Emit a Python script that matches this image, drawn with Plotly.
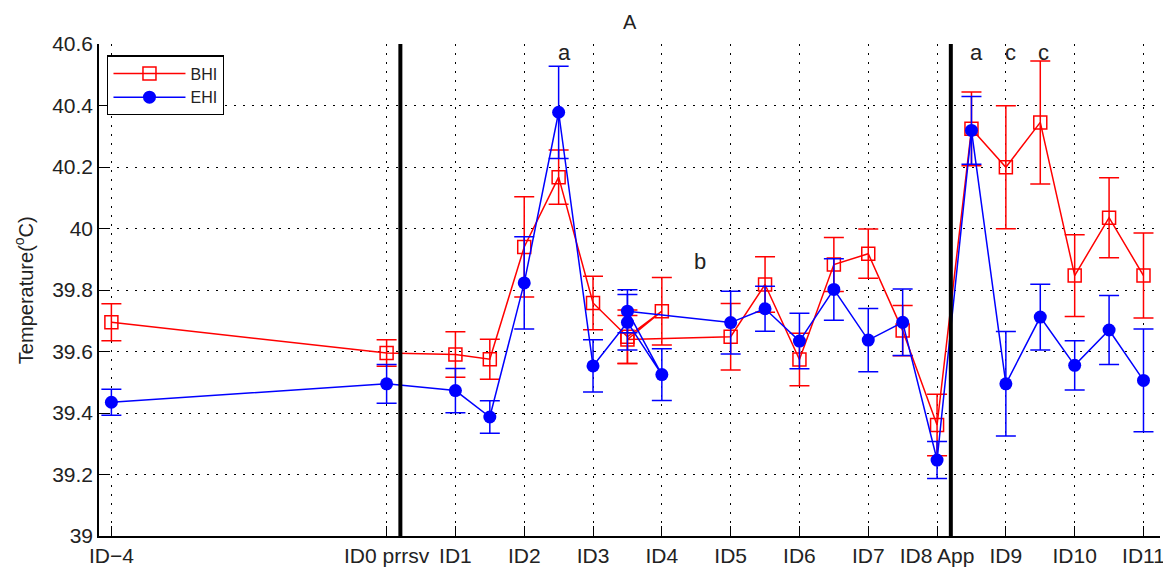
import plotly.graph_objects as go

# ---- data ----
days = [-4, 0, 1, 1.5, 2, 2.5, 3, 3.5, 4, 3.5, 5, 5.5, 6, 6.5, 7, 7.5, 8, 8.5, 9, 9.5, 10, 10.5, 11]

bhi_mean = [39.695, 39.595, 39.59, 39.575, 39.94, 40.167, 39.758, 39.648, 39.731, 39.639, 39.648,
            39.818, 39.574, 39.883, 39.918, 39.668, 39.361, 40.324, 40.199, 40.345, 39.847, 40.035, 39.847]
bhi_err = [0.06, 0.043, 0.074, 0.065, 0.163, 0.088, 0.087, 0.087, 0.11, 0.078, 0.108,
           0.09, 0.085, 0.088, 0.08, 0.082, 0.1, 0.12, 0.2, 0.2, 0.133, 0.13, 0.138]

ehi_mean = [39.435, 39.495, 39.473, 39.387, 39.823, 40.378, 39.553, 39.695, 39.525, 39.731, 39.694,
            39.739, 39.634, 39.802, 39.637, 39.695, 39.247, 40.319, 39.495, 39.712, 39.555, 39.67, 39.506]
ehi_err = [0.042, 0.063, 0.072, 0.053, 0.15, 0.15, 0.085, 0.09, 0.084, 0.07, 0.102,
           0.073, 0.09, 0.1, 0.103, 0.108, 0.06, 0.11, 0.17, 0.107, 0.08, 0.112, 0.167]

tick_vals = [-4, 0, 1, 2, 3, 4, 5, 6, 7, 8, 9, 10, 11]
tick_text = ["ID\u22124", "ID0 prrsv", "ID1", "ID2", "ID3", "ID4", "ID5", "ID6", "ID7",
             "ID8 App", "ID9", "ID10", "ID11"]

y_ticks = [39, 39.2, 39.4, 39.6, 39.8, 40, 40.2, 40.4, 40.6]
y_ticktext = ["39", "39.2", "39.4", "39.6", "39.8", "40", "40.2", "40.4", "40.6"]

event_lines = [0.2, 8.2]

letter_x = [2.59, 4.56, 8.57, 9.07, 9.55]
letter_y = [40.572, 39.894, 40.571, 40.571, 40.571]
letter_text = ["a", "b", "a", "c", "c"]

FONT = "Liberation Sans, Arial, Helvetica, sans-serif"

fig = go.Figure()
fig.add_trace(go.Scatter(
    x=days, y=bhi_mean, name="BHI", mode="lines+markers",
    line=dict(color="#ff0000", width=1.5),
    marker=dict(symbol="square-open", size=13, color="#ff0000", line=dict(width=1.5, color="#ff0000")),
    error_y=dict(type="data", array=bhi_err, visible=True, color="#ff0000", thickness=1.5, width=10),
))
fig.add_trace(go.Scatter(
    x=days, y=ehi_mean, name="EHI", mode="lines+markers",
    line=dict(color="#0000ff", width=1.5),
    marker=dict(symbol="circle", size=13, color="#0000ff"),
    error_y=dict(type="data", array=ehi_err, visible=True, color="#0000ff", thickness=1.5, width=10),
))

for xv in event_lines:
    fig.add_shape(type="line", x0=xv, x1=xv, y0=0, y1=1, xref="x", yref="paper",
                  line=dict(color="black", width=4), layer="above")

for lx, ly, lt in zip(letter_x, letter_y, letter_text):
    fig.add_annotation(x=lx, y=ly, text=lt, showarrow=False, xanchor="center", yanchor="middle",
                       font=dict(size=22, color="#222", family=FONT))

fig.add_annotation(x=0.5, y=1.045, xref="paper", yref="paper", text="A", showarrow=False,
                   xanchor="center", yanchor="middle", font=dict(size=20, color="#222", family=FONT))
fig.add_annotation(x=-0.0715, y=0.5, xref="paper", yref="paper", text="Temperature(<sup>o</sup>C)",
                   showarrow=False, textangle=-90, xanchor="center", yanchor="middle",
                   font=dict(size=20, color="#222", family=FONT))

axis_common = dict(
    showline=True, linecolor="black", linewidth=1.5, mirror=False,
    ticks="inside", ticklen=10, tickwidth=1.2, tickcolor="black",
    showgrid=True, gridcolor="black", gridwidth=1, griddash="2px,7px",
    zeroline=False, tickfont=dict(size=21, color="#222", family=FONT),
    automargin=False,
)

fig.update_layout(
    width=1171, height=567,
    margin=dict(l=91, r=19, t=36, b=39, autoexpand=False),
    paper_bgcolor="white", plot_bgcolor="white",
    font=dict(family=FONT, color="#222"),
    xaxis=dict(range=[-4.18, 11.24], tickmode="array", tickvals=tick_vals, ticktext=tick_text,
               ticklabelstandoff=0, **axis_common),
    yaxis=dict(range=[39, 40.6], tickmode="array", tickvals=y_ticks, ticktext=y_ticktext,
               **axis_common),
    showlegend=True,
    legend=dict(x=0.0078, y=0.977, xanchor="left", yanchor="top", bgcolor="white",
                bordercolor="black", borderwidth=1.2, font=dict(size=16, color="#222", family=FONT),
                tracegroupgap=0, itemwidth=72),
)

fig.write_html("out.html")
